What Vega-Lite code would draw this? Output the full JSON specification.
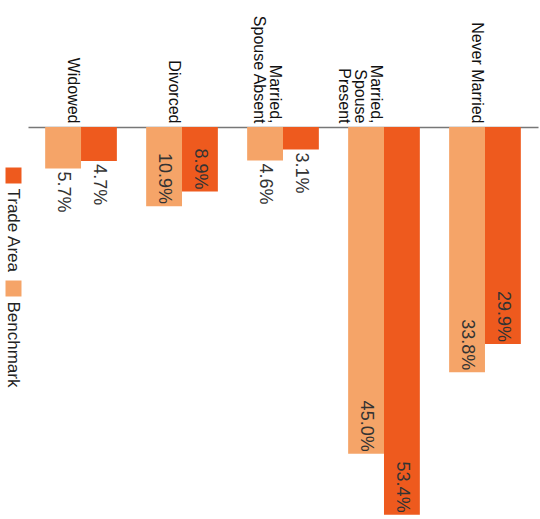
{
  "$schema": "https://vega.github.io/schema/vega-lite/v6.json",
  "width": 510,
  "height": 392,
  "autosize": {"type": "none"},
  "padding": {"left": 28, "top": 127, "right": 2, "bottom": 0},
  "background": "white",
  "config": {"view": {"stroke": null}, "font": "Liberation Sans"},
  "data": {
    "values": [
      {"status": "Widowed", "series": "Benchmark", "pct": 5.7},
      {"status": "Widowed", "series": "Trade Area", "pct": 4.7},
      {"status": "Divorced", "series": "Benchmark", "pct": 10.9},
      {"status": "Divorced", "series": "Trade Area", "pct": 8.9},
      {"status": "Married, Spouse Absent", "series": "Benchmark", "pct": 4.6},
      {"status": "Married, Spouse Absent", "series": "Trade Area", "pct": 3.1},
      {"status": "Married, Spouse Present", "series": "Benchmark", "pct": 45.0},
      {"status": "Married, Spouse Present", "series": "Trade Area", "pct": 53.4},
      {"status": "Never Married", "series": "Benchmark", "pct": 33.8},
      {"status": "Never Married", "series": "Trade Area", "pct": 29.9}
    ]
  },
  "transform": [
    {"calculate": "format(datum.pct, '.1f') + '%'", "as": "label"}
  ],
  "encoding": {
    "x": {
      "field": "status",
      "type": "nominal",
      "sort": ["Widowed", "Divorced", "Married, Spouse Absent", "Married, Spouse Present", "Never Married"],
      "scale": {"paddingInner": 0.29, "paddingOuter": 0.17},
      "axis": {
        "orient": "top",
        "title": null,
        "ticks": false,
        "domainColor": "#777777",
        "domainWidth": 1.5,
        "labelAngle": 90,
        "labelAlign": "right",
        "labelBaseline": "top",
        "labelPadding": 4,
        "labelFontSize": 16,
        "labelColor": "#111111",
        "labelLineHeight": 16,
        "labelExpr": "datum.label == 'Married, Spouse Absent' ? ['Married,', 'Spouse Absent'] : datum.label == 'Married, Spouse Present' ? ['Married,', 'Spouse', 'Present'] : datum.label"
      }
    },
    "xOffset": {"field": "series", "type": "nominal", "sort": ["Benchmark", "Trade Area"], "scale": {"paddingInner": 0, "paddingOuter": 0}},
    "y": {
      "field": "pct",
      "type": "quantitative",
      "scale": {"domain": [0, 54], "reverse": true, "nice": false},
      "axis": null
    }
  },
  "layer": [
    {
      "mark": {"type": "bar"},
      "encoding": {
        "color": {
          "field": "series",
          "type": "nominal",
          "scale": {"domain": ["Trade Area", "Benchmark"], "range": ["#EE5A1E", "#F5A468"]},
          "legend": {
            "title": null,
            "orient": "none",
            "legendX": -23,
            "legendY": 40,
            "direction": "vertical",
            "symbolType": "square",
            "symbolSize": 256,
            "symbolStrokeWidth": 0,
            "labelFontSize": 17,
            "labelColor": "#222222",
            "rowPadding": 7,
            "encode": {
              "labels": {
                "update": {
                  "angle": {"value": 90},
                  "align": {"value": "left"},
                  "baseline": {"value": "middle"},
                  "x": {"value": 8},
                  "dx": {"value": 13}
                }
              }
            }
          }
        }
      }
    },
    {
      "transform": [{"filter": "datum.pct >= 7"}],
      "mark": {"type": "text", "angle": 90, "align": "right", "baseline": "middle", "dx": -2, "fontSize": 18, "color": "#333333"},
      "encoding": {"text": {"field": "label", "type": "nominal"}}
    },
    {
      "transform": [{"filter": "datum.pct < 7"}],
      "mark": {"type": "text", "angle": 90, "align": "left", "baseline": "middle", "dx": 3, "fontSize": 18, "color": "#333333"},
      "encoding": {"text": {"field": "label", "type": "nominal"}}
    }
  ]
}
